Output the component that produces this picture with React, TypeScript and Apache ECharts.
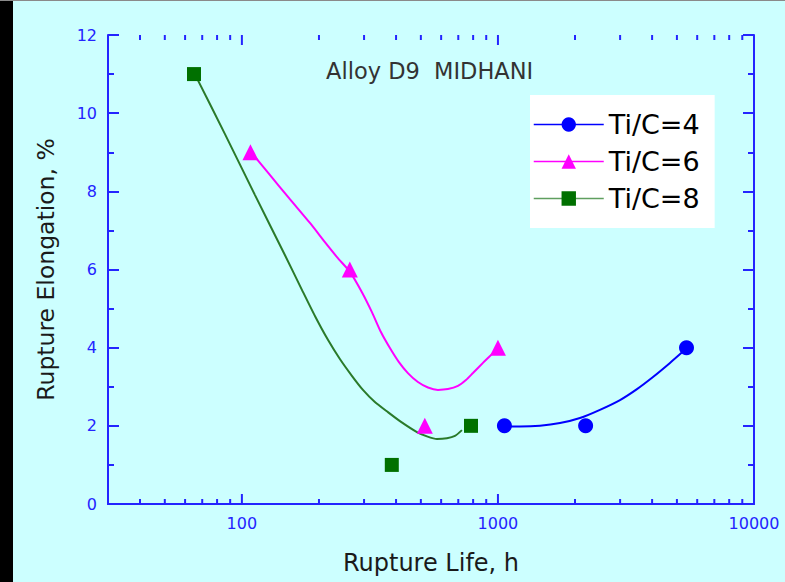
import React, { useEffect, useRef } from "react";
import * as echarts from "echarts";

// Measured points
const ti4Points: number[][] = [[1060, 2], [2200, 2], [5450, 4]];
const ti6Points: number[][] = [[108, 9], [264, 6], [518, 2], [1000, 4]];
const ti8Points: number[][] = [[65, 11], [385, 1], [785, 2]];

// Fitted curves
const ti4Fit: number[][] = [
  [1065, 1.99], [1219, 1.98], [1459, 2.0], [1747, 2.07], [2091, 2.2], [2502, 2.41],
  [2997, 2.66], [3491, 2.94], [4032, 3.25], [4697, 3.61], [5473, 3.99],
];
const ti6Fit: number[][] = [
  [108.4, 9.01], [128.6, 8.42], [154, 7.8], [184.4, 7.19], [211, 6.7], [237.1, 6.29],
  [264.2, 5.94], [294.3, 5.42], [322, 4.91], [349.1, 4.4], [378.6, 3.99], [410.5, 3.63],
  [445, 3.35], [487, 3.12], [532.9, 2.98], [583.1, 2.92], [637.8, 2.94], [698.1, 3.02],
  [749.9, 3.17], [798.6, 3.35], [873.8, 3.61], [956.1, 3.86], [1000, 4.0],
];
const ti8Fit: number[][] = [
  [65.5, 11.0], [85.8, 9.47], [112.4, 7.91], [147.2, 6.37], [171.6, 5.48], [192.9, 4.81],
  [216.8, 4.2], [241.4, 3.71], [268.9, 3.28], [297, 2.92], [330.7, 2.61], [371.8, 2.35],
  [414.2, 2.12], [482.7, 1.84], [528.1, 1.73], [577.8, 1.66], [632.1, 1.68], [679.2, 1.74],
  [723.4, 1.89],
];

const xMajorLabels = [100, 1000, 10000];
const xMinorTicks = [40, 50, 60, 70, 80, 90, 200, 300, 400, 500, 600, 700, 800, 900, 2000, 3000, 4000, 5000, 6000, 7000, 8000, 9000];

const legendNames = ["Ti/C=4", "Ti/C=6", "Ti/C=8"];
const FONT = "DejaVu Sans";
const AXIS = "#2424ff";
const BLUE = "#0000ff";
const MAGENTA = "#ff00ff";
const GREEN = "#007000";
const GREEN_LINE = "#2a7a2a";

function tickSeries(name: string, values: number[], len: number) {
  return {
    name,
    type: "custom",
    xAxisIndex: 0,
    yAxisIndex: 0,
    silent: true,
    clip: false,
    encode: { x: 0, y: 1 },
    data: values.map((v) => [v, 0]),
    renderItem: (params: any, api: any) => {
      const v = api.value(0);
      const b = api.coord([v, 0]);
      const t = api.coord([v, 12]);
      const style = { stroke: AXIS, lineWidth: 2 };
      return {
        type: "group",
        children: [
          { type: "line", shape: { x1: b[0], y1: b[1], x2: b[0], y2: b[1] - len }, style },
          { type: "line", shape: { x1: t[0], y1: t[1], x2: t[0], y2: t[1] + len }, style },
        ],
      };
    },
  };
}

export default function App() {
  const ref = useRef<HTMLDivElement>(null);
  useEffect(() => {
    if (!ref.current) return;
    const chart = echarts.init(ref.current, null, { renderer: "svg" });
    const xAxisCommon = {
      type: "log" as const,
      min: 30,
      max: 10000,
      logBase: 10,
      splitLine: { show: false },
      axisLine: { show: true, lineStyle: { color: AXIS, width: 2 } },
      axisTick: { show: false },
      minorTick: { show: false },
    };
    const yAxisCommon = {
      type: "value" as const,
      min: 0,
      max: 12,
      interval: 2,
      splitLine: { show: false },
      axisLine: { show: true, lineStyle: { color: AXIS, width: 2 } },
      axisTick: { show: true, inside: true, length: 11, lineStyle: { color: AXIS, width: 2 } },
      minorTick: { show: true, splitNumber: 2, length: 6, lineStyle: { color: AXIS, width: 2 } },
    };
    const curve = (name: string, data: number[][], color: string) => ({
      name,
      type: "line",
      data,
      smooth: 0.2,
      symbol: "none",
      lineStyle: { color, width: 2 },
      z: 2,
    });
    chart.setOption({
      animation: false,
      backgroundColor: "#ccffff",
      title: {
        text: "Alloy D9  MIDHANI",
        left: 326,
        top: 59,
        padding: 0,
        textStyle: { fontFamily: FONT, fontSize: 22.5, fontWeight: "normal", color: "#333333" },
      },
      graphic: [
        { type: "rect", shape: { x: 0, y: 0, width: 13, height: 582 }, style: { fill: "#000000" }, silent: true },
        { type: "rect", shape: { x: 0, y: 0, width: 785, height: 1 }, style: { fill: "#8a8a8a" }, silent: true },
      ],
      grid: { left: 108, right: 31, top: 35, bottom: 78, containLabel: false },
      legend: {
        orient: "vertical",
        left: 530,
        top: 95,
        width: 185,
        backgroundColor: "#ffffff",
        padding: [16, 15, 16, 3],
        itemWidth: 70,
        itemHeight: 18,
        itemGap: 10,
        textStyle: { fontFamily: FONT, fontSize: 27, color: "#000000" },
        data: [
          { name: legendNames[0], lineStyle: { color: BLUE, width: 1.5, opacity: 1, type: "solid" } },
          { name: legendNames[1], lineStyle: { color: MAGENTA, width: 1.5, opacity: 1, type: "solid" } },
          { name: legendNames[2], lineStyle: { color: "#5f9f5f", width: 1.5, opacity: 1, type: "solid" } },
        ],
      },
      xAxis: [
        {
          ...xAxisCommon,
          position: "bottom",
          name: "Rupture Life, h",
          nameLocation: "middle",
          nameGap: 47,
          nameTextStyle: { fontFamily: FONT, fontSize: 24, color: "#1a1a1a" },
          axisLabel: {
            show: true,
            margin: 11,
            color: AXIS,
            fontFamily: FONT,
            fontSize: 16,
            showMinLabel: true,
            formatter: (v: number) => {
              const r = Math.round(v);
              return xMajorLabels.includes(r) ? String(r) : "";
            },
          },
        },
        {
          ...xAxisCommon,
          position: "top",
          axisLabel: { show: false },
        },
      ],
      yAxis: [
        {
          ...yAxisCommon,
          position: "left",
          name: "Rupture Elongation, %",
          nameLocation: "middle",
          nameGap: 50,
          nameTextStyle: { fontFamily: FONT, fontSize: 23.5, color: "#1a1a1a" },
          axisLabel: { show: true, margin: 11, color: AXIS, fontFamily: FONT, fontSize: 16 },
        },
        {
          ...yAxisCommon,
          position: "right",
          axisLabel: { show: false },
        },
      ],
      series: [
        tickSeries("majorTicks", xMajorLabels, 10),
        tickSeries("minorTicks", xMinorTicks, 5),
        curve("fit4", ti4Fit, BLUE),
        curve("fit6", ti6Fit, MAGENTA),
        curve("fit8", ti8Fit, GREEN_LINE),
        {
          name: legendNames[0],
          type: "line",
          data: ti4Points,
          symbol: "circle",
          symbolSize: 15,
          itemStyle: { color: BLUE },
          lineStyle: { width: 0, color: BLUE },
          z: 3,
        },
        {
          name: legendNames[1],
          type: "line",
          data: ti6Points,
          symbol: "triangle",
          symbolSize: 16,
          itemStyle: { color: MAGENTA },
          lineStyle: { width: 0, color: MAGENTA },
          z: 3,
        },
        {
          name: legendNames[2],
          type: "line",
          data: ti8Points,
          symbol: "rect",
          symbolSize: 14,
          itemStyle: { color: GREEN },
          lineStyle: { width: 0, color: GREEN },
          z: 3,
        },
      ],
    });
    return () => chart.dispose();
  }, []);
  return (
    <div
      ref={ref}
      style={{ position: "fixed", left: 0, top: 0, width: 785, height: 582 }}
    />
  );
}
